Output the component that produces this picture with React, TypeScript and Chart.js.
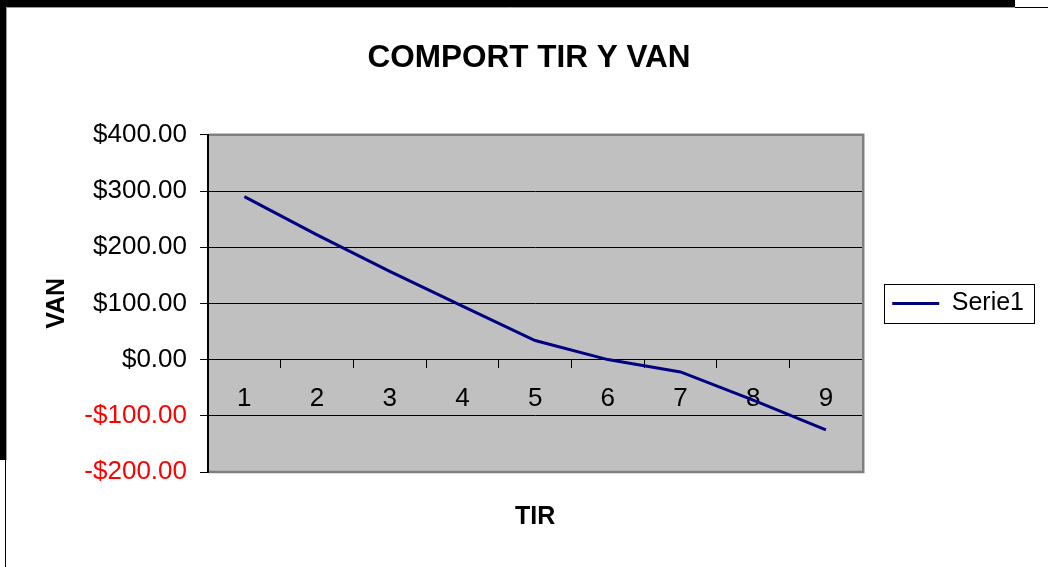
import React, { useEffect, useRef } from 'react';
import { Chart, registerables } from 'chart.js';

Chart.register(...registerables);

const categories = ['1', '2', '3', '4', '5', '6', '7', '8', '9'];
const vanValues = [290, 222, 157, 95, 34, 0, -22, -72, -125];
const yMin = -200;
const yMax = 400;
const yStep = 100;
const seriesLabel = 'Serie1';
const chartTitle = 'COMPORT TIR Y VAN';
const xTitle = 'TIR';
const yTitle = 'VAN';

const FONT = '"Liberation Sans", Arial, sans-serif';

const formatMoney = (v: number) => (v < 0 ? '-' : '') + '$' + Math.abs(v).toFixed(2);

const decorPlugin = {
  id: 'decor',
  beforeDraw(chart: any) {
    const { ctx, width, height, chartArea: a } = chart;
    ctx.save();
    ctx.fillStyle = '#ffffff';
    ctx.fillRect(0, 0, width, height);
    // page frame
    ctx.fillStyle = '#000000';
    ctx.fillRect(0, 0, 1015, 7);
    ctx.fillRect(0, 0, 6, 460);
    ctx.strokeStyle = '#000000';
    ctx.lineWidth = 1;
    ctx.beginPath();
    ctx.moveTo(1015, 7.5);
    ctx.lineTo(width, 7.5);
    ctx.moveTo(5.5, 460);
    ctx.lineTo(5.5, height);
    ctx.stroke();
    ctx.strokeStyle = '#9a9a9a';
    ctx.beginPath();
    ctx.moveTo(6, 7.5);
    ctx.lineTo(1015, 7.5);
    ctx.moveTo(6.5, 7);
    ctx.lineTo(6.5, 460);
    ctx.stroke();
    // plot area
    ctx.fillStyle = '#C0C0C0';
    ctx.fillRect(a.left, a.top, a.right - a.left, a.bottom - a.top);
    ctx.restore();
  },
  beforeDatasetsDraw(chart: any) {
    const { ctx, chartArea: a } = chart;
    ctx.save();
    ctx.strokeStyle = '#808080';
    ctx.lineWidth = 2.5;
    ctx.beginPath();
    ctx.moveTo(a.left + 1, a.top);
    ctx.lineTo(a.right + 1, a.top);
    ctx.lineTo(a.right + 1, a.bottom);
    ctx.lineTo(a.left + 1, a.bottom);
    ctx.stroke();
    ctx.restore();
  },
  afterDraw(chart: any) {
    const legend = chart.legend;
    if (!legend || !legend.legendHitBoxes || !legend.legendHitBoxes.length) return;
    const hb = legend.legendHitBoxes[0];
    const { ctx } = chart;
    const cy = hb.top + hb.height / 2;
    ctx.save();
    ctx.strokeStyle = '#000000';
    ctx.lineWidth = 1;
    const l = Math.round(hb.left - 8) + 0.5;
    const r = Math.round(hb.left + hb.width + 10) + 0.5;
    const t = Math.round(cy - 19.5) + 0.5;
    const b = Math.round(cy + 19.5) + 0.5;
    ctx.strokeRect(l, t, r - l, b - t);
    ctx.restore();
  },
};

export default function App() {
  const canvasRef = useRef<HTMLCanvasElement | null>(null);

  useEffect(() => {
    document.body.style.margin = '0';
    const canvas = canvasRef.current;
    if (!canvas) return;
    Chart.defaults.font.family = FONT;
    const chart = new Chart(canvas, {
      type: 'line',
      data: {
        labels: categories,
        datasets: [
          {
            label: seriesLabel,
            data: vanValues,
            borderColor: '#000080',
            backgroundColor: '#000080',
            borderWidth: 3,
            pointRadius: 0,
            pointHoverRadius: 0,
            pointStyle: 'line',
            tension: 0,
            fill: false,
            xAxisID: 'x',
            yAxisID: 'y',
          },
        ],
      },
      options: {
        animation: false,
        responsive: false,
        devicePixelRatio: 1,
        layout: { padding: { left: 24, right: 14, top: 0, bottom: 0 } },
        plugins: {
          title: {
            display: true,
            text: chartTitle,
            color: '#000000',
            font: { family: FONT, size: 31.5, weight: 'bold' },
            padding: { top: 39, bottom: 58 },
          },
          legend: {
            display: true,
            position: 'right',
            fullSize: false,
            labels: {
              usePointStyle: true,
              pointStyleWidth: 47,
              color: '#000000',
              font: { family: FONT, size: 25 },
              padding: 30,
            },
          },
          tooltip: { enabled: false },
        },
        scales: {
          x: {
            type: 'category',
            position: { y: 0 } as any,
            offset: true,
            grid: {
              display: true,
              drawOnChartArea: false,
              drawTicks: true,
              tickLength: 8,
              offset: true,
              color: '#000000',
            },
            border: { display: true, color: '#000000', width: 1 },
            ticks: {
              color: '#000000',
              font: { family: FONT, size: 26 },
              padding: 16,
              maxRotation: 0,
              autoSkip: false,
            },
          },
          x2: {
            type: 'category',
            position: 'bottom',
            labels: categories,
            grid: { display: false, drawTicks: false },
            border: { display: false },
            ticks: { display: false },
            title: {
              display: true,
              text: xTitle,
              color: '#000000',
              font: { family: FONT, size: 25, weight: 'bold' },
              padding: { top: 30, bottom: 35 },
            },
          },
          y: {
            type: 'linear',
            position: 'left',
            min: yMin,
            max: yMax,
            ticks: {
              stepSize: yStep,
              padding: 13,
              font: { family: FONT, size: 26 },
              color: (c: any) => (c.tick && c.tick.value < 0 ? '#FF0000' : '#000000'),
              callback: (v: any) => formatMoney(Number(v)),
            },
            grid: { color: '#000000', lineWidth: 1, tickLength: 8, drawTicks: true },
            border: { display: true, color: '#000000', width: 2 },
            title: {
              display: true,
              text: yTitle,
              color: '#000000',
              font: { family: FONT, size: 25, weight: 'bold' },
              padding: { top: 18, bottom: 0 },
            },
            afterFit: (s: any) => {
              s.width = 184;
            },
          },
        },
      },
      plugins: [decorPlugin],
    } as any);
    return () => chart.destroy();
  }, []);

  return (
    <canvas
      ref={canvasRef}
      width={1048}
      height={567}
      style={{ display: 'block', width: 1048, height: 567 }}
    />
  );
}
